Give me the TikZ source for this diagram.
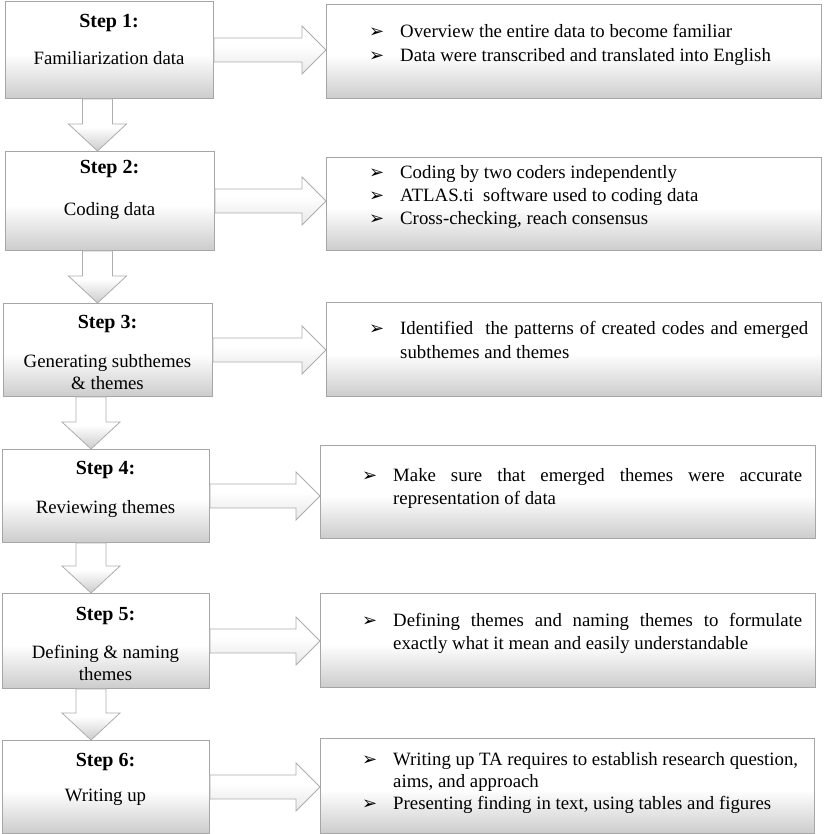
\documentclass[tikz,border=0pt]{standalone}
\usepackage{fontspec}
\setmainfont{Liberation Serif}
\newfontfamily\dejavu{DejaVu Sans}
\usetikzlibrary{calc}
\pgfdeclareverticalshading{boxshade}{100bp}{color(0bp)=(gray!40); color(25bp)=(gray!40); color(48bp)=(white); color(100bp)=(white)}
\pgfdeclareverticalshading{harrshade}{100bp}{color(0bp)=(gray!18); color(25bp)=(gray!18); color(55bp)=(white); color(100bp)=(white)}
\newcommand\bul{{\dejavu\fontsize{18}{18}\selectfont ➢}}
\newcommand\bulA{\llap{\bul\hspace{16pt}}}
\newcommand\harr[2]{\draw[harrow] let \p1=(#1.east), \p2=(#2.west) in
  (\x1,\y1+12pt) -- (\x2-24pt,\y1+12pt) -- (\x2-24pt,\y1+24pt) -- (\x2,\y1)
  -- (\x2-24pt,\y1-24pt) -- (\x2-24pt,\y1-12pt) -- (\x1,\y1-12pt) -- cycle;}
\newcommand\darr[3]{\draw[darrow] let \p1=(#1.south), \p2=(#2.north) in
  ({#3pt-15pt},\y1) -- ({#3pt+15pt},\y1) -- ({#3pt+15pt},\y2+27pt) -- ({#3pt+29pt},\y2+27pt)
  -- (#3pt,\y2) -- ({#3pt-29pt},\y2+27pt) -- ({#3pt-15pt},\y2+27pt) -- cycle;}
\begin{document}
\begin{tikzpicture}[x=1pt,y=-1pt,
  box/.style={draw=black!35, line width=0.9pt, shading=boxshade, anchor=north west, inner sep=0pt},
  harrow/.style={draw=black!32, line width=0.8pt, shading=harrshade},
  darrow/.style={draw=black!32, line width=0.8pt, shading=boxshade},
  steptitle/.style={inner sep=0pt, anchor=base, font=\fontsize{20}{24}\selectfont\bfseries},
  steptext/.style={inner sep=0pt, anchor=base, font=\fontsize{18.8}{22}\selectfont},
  infotext/.style={inner sep=0pt, anchor=base west, font=\fontsize{18.8}{22}\selectfont}]
\useasboundingbox (0,0) rectangle (829,834);
\fill[white] (0,0) rectangle (829,834);
% boxes
\node[box, minimum width=208pt, minimum height=97pt] (s1) at (5,1) {};
\node[box, minimum width=495pt, minimum height=94pt] (r1) at (326,4) {};
\node[box, minimum width=209pt, minimum height=99pt] (s2) at (5,151) {};
\node[box, minimum width=495pt, minimum height=93pt] (r2) at (326,157) {};
\node[box, minimum width=209pt, minimum height=93pt] (s3) at (3,303) {};
\node[box, minimum width=495pt, minimum height=94pt] (r3) at (326,302) {};
\node[box, minimum width=207pt, minimum height=93pt] (s4) at (2,449) {};
\node[box, minimum width=495pt, minimum height=93pt] (r4) at (320,445) {};
\node[box, minimum width=207pt, minimum height=95pt] (s5) at (2,593) {};
\node[box, minimum width=495pt, minimum height=94pt] (r5) at (320,593) {};
\node[box, minimum width=207pt, minimum height=93pt] (s6) at (2,740) {};
\node[box, minimum width=494pt, minimum height=95pt] (r6) at (320,738) {};
% arrows
\harr{s1}{r1}
\harr{s2}{r2}
\harr{s3}{r3}
\harr{s4}{r4}
\harr{s5}{r5}
\harr{s6}{r6}
\darr{s1}{s2}{97.5}
\darr{s2}{s3}{97.5}
\darr{s3}{s4}{91}
\darr{s4}{s5}{91}
\darr{s5}{s6}{91}
% step texts
\node[steptitle] (t1a) at (109,28) {Step 1:};
\node[steptext] (t1b) at (109,65) {Familiarization data};
\node[steptitle] (t2a) at (109.5,174) {Step 2:};
\node[steptext] (t2b) at (109.5,215) {Coding data};
\node[steptitle] (t3a) at (107.5,328) {Step 3:};
\node[steptext] (t3b) at (107.5,367) {Generating subthemes};
\node[steptext] (t3c) at (107.5,389) {\& themes};
\node[steptitle] (t4a) at (105.5,474) {Step 4:};
\node[steptext] (t4b) at (105.5,513) {Reviewing themes};
\node[steptitle] (t5a) at (105.5,620) {Step 5:};
\node[steptext] (t5b) at (105.5,658) {Defining \& naming};
\node[steptext] (t5c) at (105.5,680) {themes};
\node[steptitle] (t6a) at (105.5,766) {Step 6:};
\node[steptext] (t6b) at (105.5,801) {Writing up};
% info texts
\node[infotext] (i1a) at (400,38) {\bulA Overview the entire data to become familiar};
\node[infotext] (i1b) at (400,62) {\bulA Data were transcribed and translated into English};
\node[infotext] (i2a) at (400,178.5) {\bulA Coding by two coders independently};
\node[infotext] (i2b) at (400,202) {\bulA ATLAS.ti\ \ software used to coding data};
\node[infotext] (i2c) at (400,225) {\bulA Cross-checking, reach consensus};
\node[infotext] (i3a) at (400,334) {\bulA\makebox[408pt][s]{Identified\ \ the patterns of created codes and emerged}};
\node[infotext] (i3b) at (400,358) {subthemes and themes};
\node[infotext] (i4a) at (393,481) {\bulA\makebox[409pt][s]{Make sure that emerged themes were accurate}};
\node[infotext] (i4b) at (393,504) {representation of data};
\node[infotext] (i5a) at (393,626) {\bulA\makebox[409pt][s]{Defining themes and naming themes to formulate}};
\node[infotext] (i5b) at (393,649) {exactly what it mean and easily understandable};
\node[infotext] (i6a) at (393,765) {\bulA Writing up TA requires to establish research question,};
\node[infotext] (i6b) at (393,787) {aims, and approach};
\node[infotext] (i6c) at (393,809) {\bulA Presenting finding in text, using tables and figures};
\end{tikzpicture}
\end{document}
